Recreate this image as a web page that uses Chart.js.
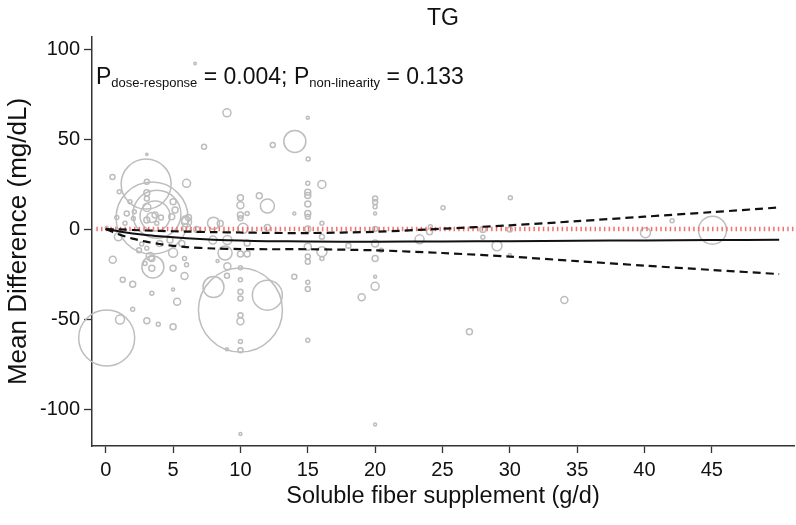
<!DOCTYPE html>
<html>
<head>
<meta charset="utf-8">
<style>
  html, body { margin: 0; padding: 0; background: #fff; }
</style>
<script src="https://cdn.jsdelivr.net/npm/chart.js@4.4.1/dist/chart.umd.min.js"></script>
</head>
<body>
<canvas id="tg-chart" width="796" height="525"></canvas>
<script>
// study level points: dose (g/d), mean difference (mg/dL), weight (circle size)
const studyX = [
  0.07, 10.0, 12.0, 8.0, 3.0, 3.44, 3.8, 3.66, 3.5, 45.05, 14.04,
  9.0, 6.63, 15.0, 7.3, 12.4, 15.03, 0.5, 3.05, 6.0, 16.05, 15.0, 15.0, 15.0, 15.0, 15.0, 15.0, 15.0,
  12.0, 11.4, 10.0, 10.0, 10.0, 10.0, 14.0, 20.0, 20.0, 20.0, 20.0, 20.0, 8.0, 8.5, 6.0, 16.05, 24.1,
  10.5, 10.2, 12.0, 6.76,
  3.05, 1.0, 3.05, 3.05, 1.8, 5.0, 5.15, 4.9, 1.56, 2.12, 3.05, 3.42, 3.05, 3.66, 4.1, 0.82, 2.05,
  5.9, 6.14, 1.43, 3.79, 6.0, 0.07,
  0.94, 0.52, 1.26, 2.0, 3.42, 2.0, 1.06, 3.05, 3.9, 5.0, 5.3, 5.85, 5.0, 6.0, 5.85, 5.0, 3.42, 5.0,
  2.47, 2.67, 3.05, 3.3, 2.92, 3.42, 4.77, 5.65, 4.0,
  8.3, 9.03, 9.0, 10.0, 10.0, 10.0, 10.0, 10.0, 10.0, 10.0, 10.0, 9.0, 10.0, 14.0, 15.0, 15.0, 15.0,
  15.0, 15.0, 16.05, 19.0, 20.0, 20.0, 20.0, 20.0, 8.86, 15.0, 16.05, 16.05, 18.02, 20.0, 20.45, 23.3,
  24.04, 25.04, 27.0, 28.0, 28.0, 29.05, 30.04, 30.0, 30.0, 34.05, 40.07, 42.05, 7.95, 9.03, 10.0,
  10.5, 10.5
];
const studyY = [
  -60.5, -45.0, -36.7, -32.2, 25.0, 6.1, 8.3, 7.2, -21.0, -0.6, 48.7,
  64.6, 92.0, 61.8, 45.7, 46.7, 38.9, 28.9, 41.5, 25.4, 24.8, 25.4, 20.5, 18.6, 13.9, 8.7, 6.9, 0.0,
  12.8, 18.5, 17.4, 13.3, 7.8, 6.0, 8.7, 17.0, 15.0, 12.4, 8.7, 0.0, 3.3, 3.1, 4.0, 3.3, 1.3,
  8.7, 0.4, 0.9, -0.2,
  26.3, 20.7, 20.2, 17.0, 15.2, 15.2, 10.6, 6.9, 8.7, 9.6, 12.0, 6.5, 5.0, 7.8, 6.5, 6.5, 5.9,
  5.0, 6.5, 3.2, 3.2, 0.7, 0.7,
  -4.3, -17.0, -28.2, -30.6, -35.7, -44.6, -50.2, -50.9, -52.8, -54.3, -40.4, -26.1, -21.7, -19.8,
  -16.3, -33.5, -21.8, -13.2,
  -11.7, -8.3, -10.7, -15.3, -19.1, -16.3, -6.1, -8.0, -8.0,
  -17.8, -20.6, -25.9, -21.5, -28.2, -34.8, -38.5, -47.8, -51.2, -62.4, -67.3, -66.7, -113.9, -26.5,
  -29.6, -33.3, -61.7, -18.1, -15.2, -12.6, -37.9, -31.8, -26.5, -16.3, -108.5, -13.3, -9.8, -4.3,
  -16.3, -9.3, -8.0, -11.7, -5.7, -1.5, 11.9, -57.0, -0.2, -4.6, -9.3, 17.4, -0.2, -14.4, -39.4, -2.0,
  4.6, -6.1, -6.1, -13.9, -13.9, -7.8
];
const studyWeight = [
  28, 42, 15, 10.5, 25, 36, 24, 15, 11, 14, 11,
  4, 1.2, 1.5, 2.5, 2.5, 2, 2.5, 1.2, 4, 4, 2, 3, 3, 3, 3, 2.5, 3,
  7, 3, 3, 3.5, 3, 2.5, 1.5, 2.5, 2.5, 2, 1.5, 2.5, 6, 3, 5, 2, 2,
  2, 5, 3, 3,
  2.5, 2, 3, 2.5, 2, 3, 3, 3, 2.5, 2, 4, 5, 3, 3, 2.5, 2, 2,
  4, 3, 2, 2, 4, 1.5,
  4, 3.5, 2.5, 3, 2, 2, 4.5, 3, 2, 3, 3.5, 3.5, 3, 2, 2, 1.5, 3, 4.5,
  2.5, 2, 2, 4, 2, 3, 3, 3, 3,
  1.5, 3.5, 2.5, 2, 2, 2.5, 2.5, 2.5, 3.5, 2, 2.5, 1.5, 1.5, 2.5, 2, 2.5, 2, 2.5, 2.5, 5, 3.5, 4,
  1.5, 3, 1.5, 7, 3.5, 2.5, 2, 2.5, 3.5, 2, 4.5, 3, 2, 3, 3, 2, 5, 2, 2.5, 1.5, 3.5, 5, 2, 4, 4.5,
  3, 3, 3
];

// dose-response curve and 95% CI
const doseX = [0, 1, 2, 3, 4, 5, 6, 8, 10, 12, 15, 20, 25, 30, 35, 40, 45, 50];
const fitted = [0, -1.3, -2.4, -3.3, -4.0, -4.6, -5.1, -5.9, -6.4, -6.7, -6.9, -7.0, -6.9, -6.7, -6.5, -6.3, -6.1, -5.9];
const upperCI = [0, -0.2, -0.5, -0.8, -1.0, -1.2, -1.4, -1.7, -1.9, -2.1, -2.2, -1.5, 0.2, 2.1, 4.4, 6.9, 9.4, 12];
const lowerCI = [0, -3.0, -5.3, -7.0, -8.3, -9.3, -10.0, -10.8, -11.1, -11.2, -11.2, -11.8, -13.3, -15.3, -17.8, -20.3, -22.7, -25];

const xTicks = [0, 5, 10, 15, 20, 25, 30, 35, 40, 45];
const yTicks = [-100, -50, 0, 50, 100];

const FONT = "'Liberation Sans', Arial, sans-serif";

function toPoints(xs, ys) {
  return xs.map((x, i) => ({ x: x, y: ys[i] }));
}

const studies = studyX.map((x, i) => ({ x: x, y: studyY[i], r: studyWeight[i] }));

// P values text, with subscripts
const pValueText = {
  id: 'pValueText',
  afterDatasetsDraw(chart) {
    const ctx = chart.ctx;
    const parts = [
      ['P', false], ['dose-response', true], [' = 0.004; ', false],
      ['P', false], ['non-linearity', true], [' = 0.133', false]
    ];
    let x = chart.chartArea.left + 4;
    const base = 84;
    ctx.save();
    ctx.fillStyle = '#111';
    ctx.textBaseline = 'alphabetic';
    ctx.textAlign = 'left';
    parts.forEach(([txt, sub]) => {
      ctx.font = (sub ? '13px ' : '23px ') + FONT;
      ctx.fillText(txt, x, sub ? base + 3 : base);
      x += ctx.measureText(txt).width;
    });
    ctx.restore();
  }
};

const chart = new Chart(document.getElementById('tg-chart'), {
  type: 'scatter',
  data: {
    datasets: [
      {
        label: 'fitted',
        data: toPoints(doseX, fitted),
        showLine: true,
        borderColor: '#111',
        borderWidth: 2,
        pointRadius: 0,
        tension: 0.3,
        order: 0
      },
      {
        label: 'upper',
        data: toPoints(doseX, upperCI),
        showLine: true,
        borderColor: '#111',
        borderWidth: 2.2,
        borderDash: [8, 5],
        pointRadius: 0,
        tension: 0.3,
        order: 0
      },
      {
        label: 'lower',
        data: toPoints(doseX, lowerCI),
        showLine: true,
        borderColor: '#111',
        borderWidth: 2.2,
        borderDash: [8, 5],
        pointRadius: 0,
        tension: 0.3,
        order: 0
      },
      {
        label: 'reference',
        data: [{ x: -0.7, y: 0 }, { x: 51.1, y: 0 }],
        showLine: true,
        borderColor: '#f07272',
        borderWidth: 4.5,
        borderDash: [1.5, 3.2],
        pointRadius: 0,
        order: 1
      },
      {
        type: 'bubble',
        label: 'studies',
        data: studies,
        borderColor: '#bdbdbd',
        backgroundColor: 'rgba(0,0,0,0)',
        borderWidth: 1.5,
        clip: false,
        order: 2
      }
    ]
  },
  options: {
    responsive: false,
    animation: false,
    layout: { autoPadding: false, padding: { right: 2 } },
    plugins: {
      legend: { display: false },
      tooltip: { enabled: false },
      title: {
        display: true,
        text: 'TG',
        fullSize: false,
        color: '#111',
        font: { family: FONT, size: 23, weight: 'normal' },
        padding: { top: 5, bottom: 4.4 }
      }
    },
    scales: {
      x: {
        type: 'linear',
        min: -1.02,
        max: 51.1,
        afterBuildTicks: (axis) => { axis.ticks = xTicks.map(v => ({ value: v })); },
        afterFit: (axis) => { axis.height = 79; },
        grid: { drawOnChartArea: false, drawTicks: true, tickLength: 7, color: '#333', tickWidth: 1.3 },
        border: { color: '#333', width: 1.5 },
        ticks: { color: '#111', font: { family: FONT, size: 20 }, padding: 5, maxRotation: 0, autoSkip: false },
        title: {
          display: true,
          text: 'Soluble fiber supplement (g/d)',
          color: '#111',
          font: { family: FONT, size: 23.5 },
          padding: { top: 0, bottom: 14 }
        }
      },
      y: {
        type: 'linear',
        min: -120.5,
        max: 106.7,
        afterBuildTicks: (axis) => { axis.ticks = yTicks.map(v => ({ value: v })); },
        afterFit: (axis) => { axis.width = 92; },
        grid: { drawOnChartArea: false, drawTicks: true, tickLength: 8, color: '#333', tickWidth: 1.3 },
        border: { color: '#333', width: 1.5 },
        ticks: { color: '#111', font: { family: FONT, size: 20 }, padding: 4, autoSkip: false },
        title: {
          display: true,
          text: 'Mean Difference (mg/dL)',
          color: '#111',
          font: { family: FONT, size: 26 },
          padding: { top: 3.4, bottom: 0 }
        }
      }
    }
  },
  plugins: [pValueText]
});
</script>
</body>
</html>
